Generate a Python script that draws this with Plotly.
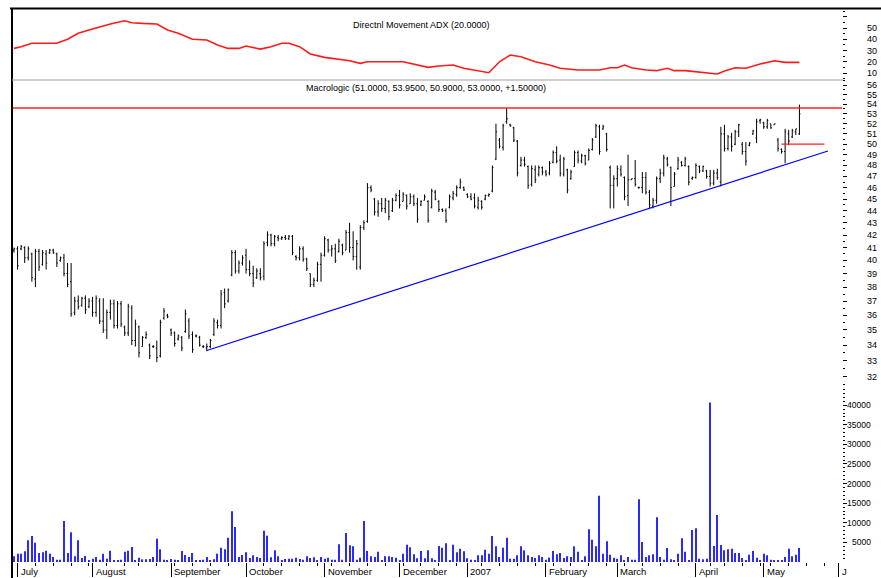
import numpy as np
import pandas as pd
import plotly.graph_objects as go

# ---------------- calendar (Warsaw trading days) ----------------
holidays = ["2006-08-15", "2006-11-01", "2006-12-25", "2006-12-26", "2007-01-01",
            "2007-04-06", "2007-04-09", "2007-05-01", "2007-05-03"]
calendar = pd.bdate_range("2006-06-30", "2007-06-01", freq="C", holidays=holidays)
month_labels = ["July", "August", "September", "October", "November", "December",
                "2007", "February", "March", "April", "May", "J"]

# ---------------- price bars ----------------
bar_open = [40.8, 40.9, 40.9, 41.0, 40.2, 40.5, 38.6, 40.7, 39.7, 40.5, 40.6, 40.8, 40.5, 40.0, 40.2, 39.0, 38.4, 36.2, 37.0, 36.7,
            37.2, 36.6, 37.0, 36.2, 37.0, 35.6, 35.0, 36.2, 36.8, 35.3, 36.8, 35.2, 34.8, 36.5, 34.3, 35.2, 33.9, 34.5, 34.0, 33.9,
            33.8, 33.3, 35.8, 36.0, 35.0, 34.8, 34.4, 34.5, 34.9, 35.6, 34.7, 34.6, 34.5, 33.9, 33.8, 33.9, 34.7, 35.5, 35.3, 37.6,
            37.0, 38.9, 40.6, 39.2, 39.8, 40.4, 39.3, 39.0, 38.7, 39.0, 38.8, 41.4, 42.0, 41.3, 41.8, 41.7, 41.8, 41.7, 41.9, 40.3,
            40.2, 40.9, 40.1, 39.0, 38.2, 38.5, 39.7, 40.4, 41.6, 40.8, 40.9, 40.7, 41.2, 40.8, 42.2, 41.0, 40.3, 39.5, 42.6, 43.1,
            46.0, 45.0, 43.9, 44.6, 44.2, 44.8, 44.0, 44.9, 45.3, 44.8, 45.3, 44.6, 45.2, 44.6, 44.5, 44.9, 44.8, 44.3, 45.6, 44.8,
            44.1, 44.0, 44.3, 45.1, 45.4, 46.0, 46.0, 45.4, 45.2, 45.1, 44.3, 44.8, 45.0, 45.3, 45.7, 48.6, 50.4, 49.7, 52.2, 51.9,
            51.6, 50.3, 48.0, 48.5, 47.9, 46.3, 47.6, 47.2, 47.8, 47.4, 47.3, 48.3, 49.2, 48.5, 47.2, 47.6, 46.8, 47.9, 49.2, 48.4,
            48.9, 48.5, 49.5, 50.7, 51.7, 51.5, 51.0, 47.8, 46.2, 46.8, 47.6, 46.9, 45.3, 46.7, 46.8, 46.0, 46.0, 46.9, 45.6, 44.4,
            44.9, 46.8, 47.3, 48.6, 47.8, 46.1, 47.7, 48.3, 48.0, 47.9, 46.8, 46.9, 47.9, 47.5, 47.5, 47.0, 46.4, 47.3, 46.5, 51.0,
            49.6, 50.7, 50.0, 51.2, 50.0, 49.3, 49.9, 51.0, 50.6, 52.3, 52.1, 51.7, 52.0, 51.9, 50.4, 49.5, 49.3, 51.0, 50.7, 51.2,
            51.0]
bar_high = [41.0, 41.1, 41.2, 41.1, 41.1, 40.6, 40.9, 40.9, 40.8, 40.8, 40.9, 40.9, 40.6, 40.3, 40.5, 39.8, 39.8, 37.3, 37.4, 37.3,
            37.4, 37.2, 37.3, 37.4, 37.2, 37.2, 36.4, 37.1, 37.1, 37.0, 37.0, 35.3, 36.8, 36.7, 35.7, 35.3, 34.6, 34.9, 34.1, 34.0,
            34.3, 35.7, 36.5, 36.1, 35.1, 34.9, 34.7, 34.6, 36.4, 35.8, 34.9, 34.7, 34.6, 34.0, 34.1, 34.4, 35.8, 35.7, 37.8, 37.9,
            37.9, 40.8, 40.8, 40.0, 40.4, 40.9, 40.0, 39.6, 39.4, 39.4, 41.5, 42.3, 42.1, 42.0, 42.0, 41.9, 42.0, 42.0, 42.0, 40.4,
            41.1, 41.1, 40.2, 39.0, 38.7, 39.9, 40.6, 41.9, 41.7, 41.2, 41.3, 41.7, 41.3, 42.4, 43.0, 42.3, 41.6, 42.8, 43.2, 46.4,
            46.2, 45.1, 44.9, 45.1, 45.1, 44.9, 45.1, 45.5, 45.8, 45.6, 45.4, 45.5, 45.4, 45.1, 44.9, 45.4, 44.9, 45.9, 45.8, 44.9,
            44.2, 44.2, 45.4, 45.7, 46.2, 46.8, 46.1, 45.5, 45.5, 45.5, 45.2, 44.9, 45.4, 45.5, 48.0, 52.0, 50.6, 52.0, 53.6, 52.0,
            51.7, 50.4, 48.8, 48.8, 48.0, 48.0, 48.0, 48.0, 47.9, 47.6, 48.4, 49.4, 49.8, 49.0, 48.8, 47.7, 47.6, 49.4, 49.4, 49.1,
            49.0, 49.6, 50.6, 52.0, 51.9, 51.9, 51.1, 48.0, 47.1, 48.0, 48.0, 47.0, 49.0, 46.8, 48.5, 46.1, 47.4, 47.4, 45.8, 45.1,
            47.0, 47.7, 49.0, 48.8, 47.9, 47.4, 48.8, 48.4, 48.8, 48.0, 47.0, 48.2, 48.0, 48.0, 47.6, 47.6, 47.6, 47.7, 51.7, 51.9,
            50.9, 51.1, 51.4, 52.0, 50.2, 50.2, 50.2, 51.4, 52.5, 52.5, 52.2, 52.5, 52.0, 52.0, 50.6, 49.6, 51.5, 51.4, 51.5, 51.5,
            53.95]
bar_low = [40.6, 39.3, 40.8, 39.8, 40.0, 38.4, 38.0, 39.2, 39.6, 39.3, 40.5, 40.5, 39.5, 39.9, 38.8, 38.0, 35.9, 36.0, 36.4, 36.6,
           36.1, 36.5, 35.9, 35.9, 35.4, 34.8, 34.4, 35.7, 35.1, 35.1, 35.2, 34.6, 34.6, 34.0, 33.9, 33.2, 33.9, 34.4, 33.1, 33.8,
           32.9, 33.2, 35.7, 35.8, 34.6, 33.9, 34.3, 33.6, 34.8, 34.4, 33.5, 34.5, 33.9, 33.8, 33.6, 33.8, 34.6, 35.1, 35.1, 36.5,
           36.9, 38.8, 39.0, 39.0, 39.6, 39.0, 38.8, 38.0, 38.6, 38.5, 38.5, 41.1, 41.1, 41.1, 41.5, 41.6, 41.6, 41.6, 40.4, 40.0,
           40.0, 39.9, 39.2, 38.0, 38.0, 38.4, 38.4, 40.3, 40.6, 40.3, 39.8, 40.6, 40.4, 40.8, 40.6, 40.0, 39.3, 39.3, 42.4, 43.0,
           45.6, 43.6, 43.5, 43.9, 43.8, 43.2, 43.9, 44.8, 44.2, 44.8, 44.1, 44.6, 44.4, 43.0, 44.4, 44.9, 43.0, 44.2, 44.9, 43.9,
           43.9, 43.0, 44.2, 44.9, 45.2, 45.9, 45.7, 45.1, 44.9, 44.2, 44.1, 44.1, 44.9, 45.2, 45.6, 48.5, 49.6, 49.4, 52.0, 51.7,
           50.2, 47.0, 47.9, 47.9, 45.9, 46.1, 46.4, 47.0, 47.1, 47.0, 47.1, 48.2, 48.2, 47.0, 47.0, 45.5, 46.7, 47.9, 48.2, 48.2,
           48.0, 48.5, 49.4, 50.6, 49.0, 51.4, 49.3, 44.2, 44.2, 46.1, 47.0, 44.9, 44.4, 46.7, 46.1, 45.9, 45.5, 45.4, 44.2, 44.2,
           44.6, 46.4, 47.0, 47.9, 44.4, 46.1, 47.6, 47.9, 47.9, 46.2, 46.7, 46.8, 47.3, 47.4, 46.8, 46.1, 46.2, 46.7, 46.1, 49.3,
           49.4, 49.3, 49.9, 50.7, 49.0, 48.0, 49.8, 50.9, 50.1, 52.0, 51.5, 51.5, 51.5, 51.9, 49.3, 49.1, 48.2, 49.9, 50.6, 50.9,
           50.9]
bar_close = [40.9, 39.6, 41.1, 40.2, 40.9, 38.7, 40.7, 39.5, 40.6, 39.8, 40.8, 40.6, 39.8, 40.2, 39.0, 38.2, 36.1, 37.0, 36.6, 37.2,
             36.4, 37.0, 36.2, 37.2, 35.6, 35.0, 36.2, 36.8, 35.3, 36.8, 35.4, 34.8, 36.6, 34.3, 35.4, 33.5, 34.5, 34.7, 33.3, 33.9,
             33.2, 35.5, 36.3, 35.9, 34.8, 34.1, 34.6, 33.8, 36.1, 34.6, 33.7, 34.6, 34.0, 33.9, 33.9, 34.3, 35.6, 35.3, 37.5, 36.8,
             37.8, 40.6, 39.2, 39.8, 40.2, 39.3, 39.0, 38.3, 39.2, 38.7, 41.3, 42.0, 41.3, 41.9, 41.7, 41.8, 41.7, 41.9, 40.6, 40.2,
             40.9, 40.1, 39.4, 38.2, 38.5, 39.7, 40.4, 41.7, 40.8, 40.9, 40.0, 41.5, 40.6, 42.2, 41.0, 40.3, 41.3, 42.6, 43.0, 46.0,
             45.8, 43.9, 44.6, 44.2, 44.9, 43.5, 44.9, 45.3, 44.5, 45.4, 44.4, 45.2, 44.6, 43.3, 44.8, 45.2, 43.2, 45.7, 45.0, 44.1,
             44.0, 43.2, 45.2, 45.5, 46.0, 46.5, 45.8, 45.2, 45.0, 44.4, 44.9, 44.3, 45.3, 45.4, 47.8, 51.2, 49.8, 51.8, 52.5, 51.8,
             50.4, 47.3, 48.5, 48.1, 46.2, 47.7, 46.7, 47.8, 47.4, 47.2, 48.2, 49.2, 48.4, 47.3, 48.6, 45.8, 47.4, 49.2, 48.5, 48.9,
             48.2, 49.4, 50.4, 51.8, 49.3, 51.7, 49.5, 46.2, 46.8, 47.7, 47.2, 45.2, 46.7, 46.8, 46.3, 46.0, 46.9, 45.6, 44.5, 44.9,
             46.8, 47.3, 48.7, 48.1, 46.0, 47.2, 48.5, 48.0, 48.6, 46.5, 46.9, 48.0, 47.5, 47.9, 47.0, 46.4, 47.3, 46.9, 51.0, 49.6,
             50.7, 49.8, 51.2, 51.9, 49.3, 48.4, 50.1, 51.3, 52.2, 52.4, 51.7, 52.3, 51.6, 52.0, 49.6, 49.3, 51.2, 50.3, 51.3, 51.5,
             53.0]

# ---------------- volume ----------------
volume = [1445, 2125, 2125, 2720, 5525, 6630, 4930, 2295, 2465, 2890, 2125, 1275, 595, 595, 10455, 2295, 7565, 1445, 5525, 1020,
          1530, 400, 850, 1275, 595, 2125, 850, 2890, 425, 425, 595, 2635, 2890, 3825, 425, 1105, 680, 680, 765, 1275,
          5950, 3230, 595, 425, 765, 595, 425, 2805, 1785, 1275, 2295, 425, 425, 595, 1275, 425, 680, 2125, 3655, 3230,
          6205, 12920, 8925, 1275, 1785, 2465, 1020, 1700, 1275, 1020, 7990, 6715, 1190, 2975, 1445, 425, 765, 850, 850, 1105,
          765, 595, 1445, 1020, 1190, 425, 1275, 850, 1105, 595, 595, 4505, 595, 7395, 4250, 3995, 595, 1105, 10455, 2805,
          1445, 1275, 2635, 425, 1445, 1445, 1275, 1105, 425, 2125, 4420, 3740, 1955, 935, 2805, 935, 2975, 935, 425, 4080,
          3655, 4760, 425, 4420, 2465, 3400, 2720, 935, 595, 300, 1700, 1700, 3145, 2125, 6630, 3995, 1275, 3655, 6205, 850,
          850, 1700, 3995, 2975, 1700, 1275, 1020, 1700, 1275, 595, 1105, 2805, 1955, 2295, 1020, 1445, 1275, 3995, 2635, 425,
          1445, 8330, 5695, 3995, 16915, 2125, 5270, 1870, 1105, 850, 1700, 425, 1275, 595, 595, 15980, 5100, 1275, 1700, 1955,
          11390, 1275, 595, 3570, 680, 425, 2125, 6035, 2635, 425, 8160, 8585, 850, 680, 850, 40715, 4080, 11985, 4335, 2975,
          3230, 3400, 2295, 2295, 1020, 425, 1870, 2805, 1105, 425, 2125, 1700, 595, 425, 300, 425, 1275, 3400, 1445, 1870,
          3570]

# ---------------- ADX (20) ----------------
adx_bar = [0, 2, 5, 12, 15, 18, 21, 24, 27, 31, 33, 36, 40, 43, 46, 50, 54, 57, 60, 63, 65, 69, 72, 75, 77, 80, 83, 87,
           90, 94, 97, 99, 109, 114, 116, 119, 123, 126, 130, 133, 136, 139, 142, 146, 150, 153, 158, 164, 167, 169, 171,
           173, 177, 180, 183, 185, 188, 191, 194, 197, 199, 202, 205, 209, 213, 216, 220]
adx_value = [31.9, 33.4, 36.4, 36.4, 40.0, 45.3, 48.2, 51.1, 53.6, 56.5, 54.7, 54.1, 53.6, 48.2, 45.3, 40.0, 39.3, 34.9,
             31.9, 31.9, 34.0, 31.3, 33.4, 36.4, 36.4, 33.4, 26.9, 23.9, 22.4, 20.9, 18.6, 20.0, 20.0, 16.5, 15.0, 16.2,
             17.1, 14.2, 11.8, 10.3, 20.0, 26.0, 24.5, 20.0, 17.1, 14.2, 12.7, 12.7, 14.7, 14.7, 17.1, 14.7, 12.7, 12.1,
             14.2, 12.1, 12.1, 11.2, 10.6, 9.1, 11.8, 14.7, 14.2, 18.0, 20.9, 19.5, 19.5]

# ---------------- drawn studies ----------------
resistance = 53.6
support = 50.0
support_bar = [215, 227]
trend_bar = [54, 228]
trend_price = [33.65, 49.35]

adx_ticks = [10, 20, 30, 40, 50]
price_ticks = list(range(32, 57))
volume_ticks = [5000, 10000, 15000, 20000, 25000, 30000, 35000, 40000]

# ---------------- geometry ----------------
W, H = 881, 578
ML, MR, MT, MB = 12, 39, 8, 16
PW, PH = W - ML - MR, H - MT - MB
X_RANGE = [-0.56, 231.93]


def py(px):  # pixel row -> paper y
    return (H - MB - px) / PH


def pxx(px):  # pixel column -> paper x
    return (px - ML) / PW


FONT = "Arial, Liberation Sans, sans-serif"
x = np.arange(len(bar_close))
month_idx = [i for i in range(1, len(calendar)) if calendar[i].month != calendar[i - 1].month]
week_idx = [i for i in range(1, len(calendar)) if calendar[i].weekday() < calendar[i - 1].weekday()]

fig = go.Figure()
fig.add_trace(go.Scatter(x=adx_bar, y=adx_value, mode="lines", xaxis="x", yaxis="y",
                         line=dict(color="#ff1a1a", width=1.6), hoverinfo="skip"))
fig.add_trace(go.Ohlc(x=x, open=bar_open, high=bar_high, low=bar_low, close=bar_close,
                      xaxis="x", yaxis="y2", tickwidth=0.3,
                      increasing=dict(line=dict(color="black", width=1)),
                      decreasing=dict(line=dict(color="black", width=1)), hoverinfo="skip"))
fig.add_trace(go.Scatter(x=X_RANGE, y=[resistance, resistance], mode="lines", xaxis="x", yaxis="y2",
                         line=dict(color="#ff2020", width=1.3), hoverinfo="skip"))
fig.add_trace(go.Scatter(x=support_bar, y=[support, support], mode="lines", xaxis="x", yaxis="y2",
                         line=dict(color="#ff2020", width=1.3), hoverinfo="skip"))
fig.add_trace(go.Scatter(x=trend_bar, y=trend_price, mode="lines", xaxis="x", yaxis="y2",
                         line=dict(color="#0000ff", width=1.2), hoverinfo="skip"))
fig.add_trace(go.Bar(x=x, y=volume, width=0.3, xaxis="x", yaxis="y3",
                     marker=dict(color="#2a2aff", line=dict(width=0)), hoverinfo="skip"))

d_adx = [py(80), 1.0]
d_price = [py(385), py(80)]
d_vol = [0.0, py(385)]

yaxis_common = dict(side="right", anchor="x", showgrid=False, zeroline=False, showline=False,
                    ticks="outside", ticklen=4, tickcolor="black", tickwidth=1,
                    showticklabels=False, automargin=False, fixedrange=True)

fig.update_layout(
    width=W, height=H, template="none",
    margin=dict(l=ML, r=MR, t=MT, b=MB, autoexpand=False),
    paper_bgcolor="white", plot_bgcolor="white", showlegend=False,
    font=dict(family=FONT, size=9, color="black"),
    xaxis=dict(range=X_RANGE, anchor="y3", showgrid=False, zeroline=False, showline=False,
               tickmode="array", tickvals=month_idx, ticks="outside", ticklen=14,
               tickcolor="black", tickwidth=1, showticklabels=False, automargin=False,
               rangeslider=dict(visible=False), fixedrange=True,
               minor=dict(tickmode="array", tickvals=week_idx, ticks="outside", ticklen=3,
                          tickcolor="black", tickwidth=1)),
    yaxis=dict(domain=d_adx, range=[3.8, 67.8], tickmode="array",
               tickvals=adx_ticks + [60],
               minor=dict(tickmode="array", tickvals=[5, 15, 25, 35, 45, 55, 65], ticks="outside",
                          ticklen=2, tickcolor="black"),
               **yaxis_common),
    yaxis2=dict(domain=d_price, type="log", range=[np.log10(31.49), np.log10(56.56)],
                tickmode="array", tickvals=price_ticks,
                minor=dict(tickmode="array", tickvals=[v + 0.5 for v in range(31, 57)], ticks="outside",
                           ticklen=2, tickcolor="black"),
                **yaxis_common),
    yaxis3=dict(domain=d_vol, range=[0, 45150], tickmode="array", tickvals=volume_ticks,
                minor=dict(tickmode="array", tickvals=[v for v in range(1000, 45001, 1000) if v % 5000],
                           ticks="outside", ticklen=2, tickcolor="black"),
                **yaxis_common),
)

ann = []
for v in adx_ticks:
    ann.append(dict(x=pxx(879), xref="paper", y=v, yref="y", text=str(v), xanchor="right",
                    yanchor="middle", showarrow=False, font=dict(size=9)))
for v in price_ticks:
    ann.append(dict(x=pxx(879), xref="paper", y=np.log10(v), yref="y2", text=str(v), xanchor="right",
                    yanchor="middle", showarrow=False, font=dict(size=9)))
for v in volume_ticks:
    ann.append(dict(x=pxx(873), xref="paper", y=v, yref="y3", text=str(v), xanchor="right",
                    yanchor="middle", showarrow=False, font=dict(size=8.5)))
for i, lab in zip(month_idx, month_labels):
    ann.append(dict(x=i, xref="x", y=py(571), yref="paper", text=lab, xanchor="left", xshift=1,
                    yanchor="middle", showarrow=False, font=dict(size=9.5)))
ann.append(dict(x=pxx(421), xref="paper", y=py(25), yref="paper", text="Directnl Movement ADX (20.0000)",
                xanchor="center", yanchor="middle", showarrow=False, font=dict(size=9)))
ann.append(dict(x=pxx(426), xref="paper", y=py(88), yref="paper",
                text="Macrologic (51.0000, 53.9500, 50.9000, 53.0000, +1.50000)",
                xanchor="center", yanchor="middle", showarrow=False, font=dict(size=9)))
fig.update_layout(annotations=ann)

fig.update_layout(shapes=[
    dict(type="line", xref="paper", yref="paper", x0=pxx(10), x1=pxx(881), y0=py(8.5), y1=py(8.5),
         line=dict(color="black", width=2)),
    dict(type="line", xref="paper", yref="paper", x0=pxx(12), x1=pxx(12), y0=py(8.5), y1=py(578),
         line=dict(color="black", width=2)),
    dict(type="line", xref="paper", yref="paper", x0=pxx(12), x1=pxx(843), y0=py(80), y1=py(80),
         line=dict(color="#a0a0a0", width=1)),
])

# the page body has a default 8px margin; remove it so the figure sits at the window origin
fig.write_html("out.html", config={"displayModeBar": False},
               post_script="document.body.style.margin='0';document.body.style.overflow='hidden';")
